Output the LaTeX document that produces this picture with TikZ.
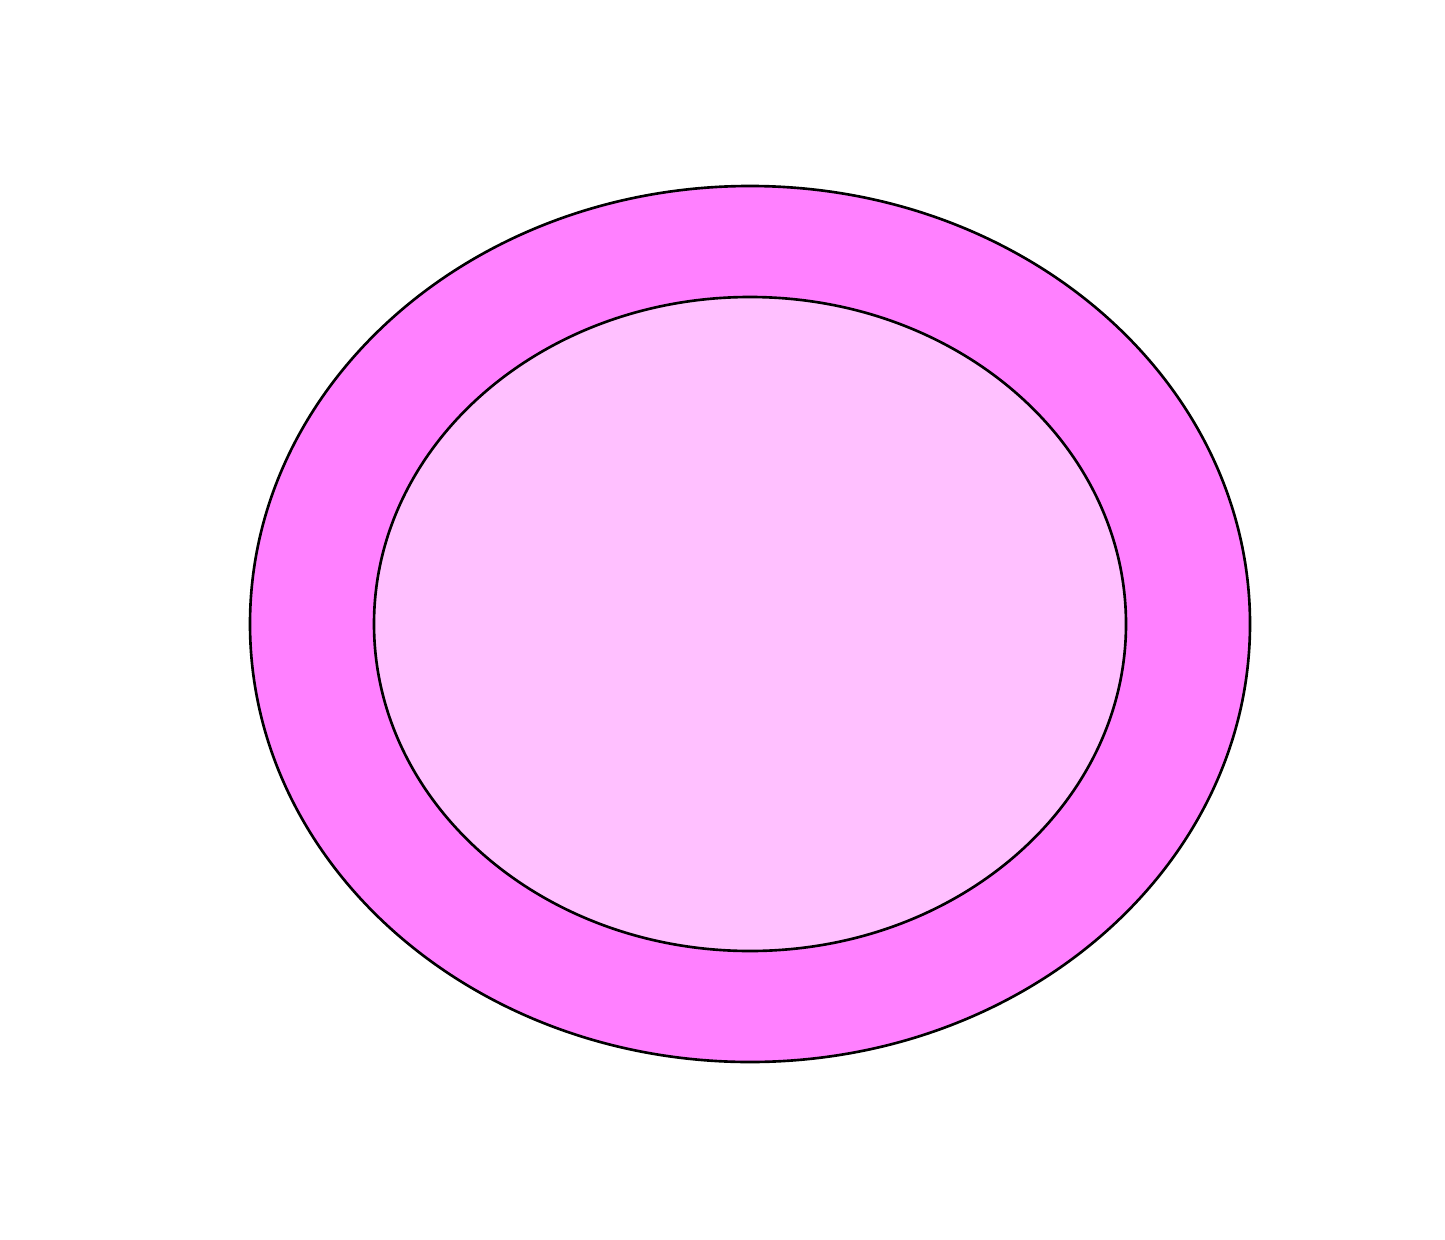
\documentclass[tikz,border=0pt]{standalone}
\usetikzlibrary{calc}
\definecolor{outerpink}{RGB}{255,128,255}
\definecolor{innerpink}{RGB}{255,192,255}

\begin{document}
\begin{tikzpicture}[line width=0.75pt, line cap=round, line join=round, x=0.1mm, y=0.1mm]
  \useasboundingbox (0,0) rectangle (1445,1239);
  \coordinate (c) at (750,615);
  \fill[outerpink] (c) ellipse [x radius=500, y radius=438];
  \fill[innerpink] (c) ellipse [x radius=376, y radius=327];
  \draw (c) ellipse [x radius=500, y radius=438];
  \draw (c) ellipse [x radius=376, y radius=327];
\end{tikzpicture}
\end{document}
